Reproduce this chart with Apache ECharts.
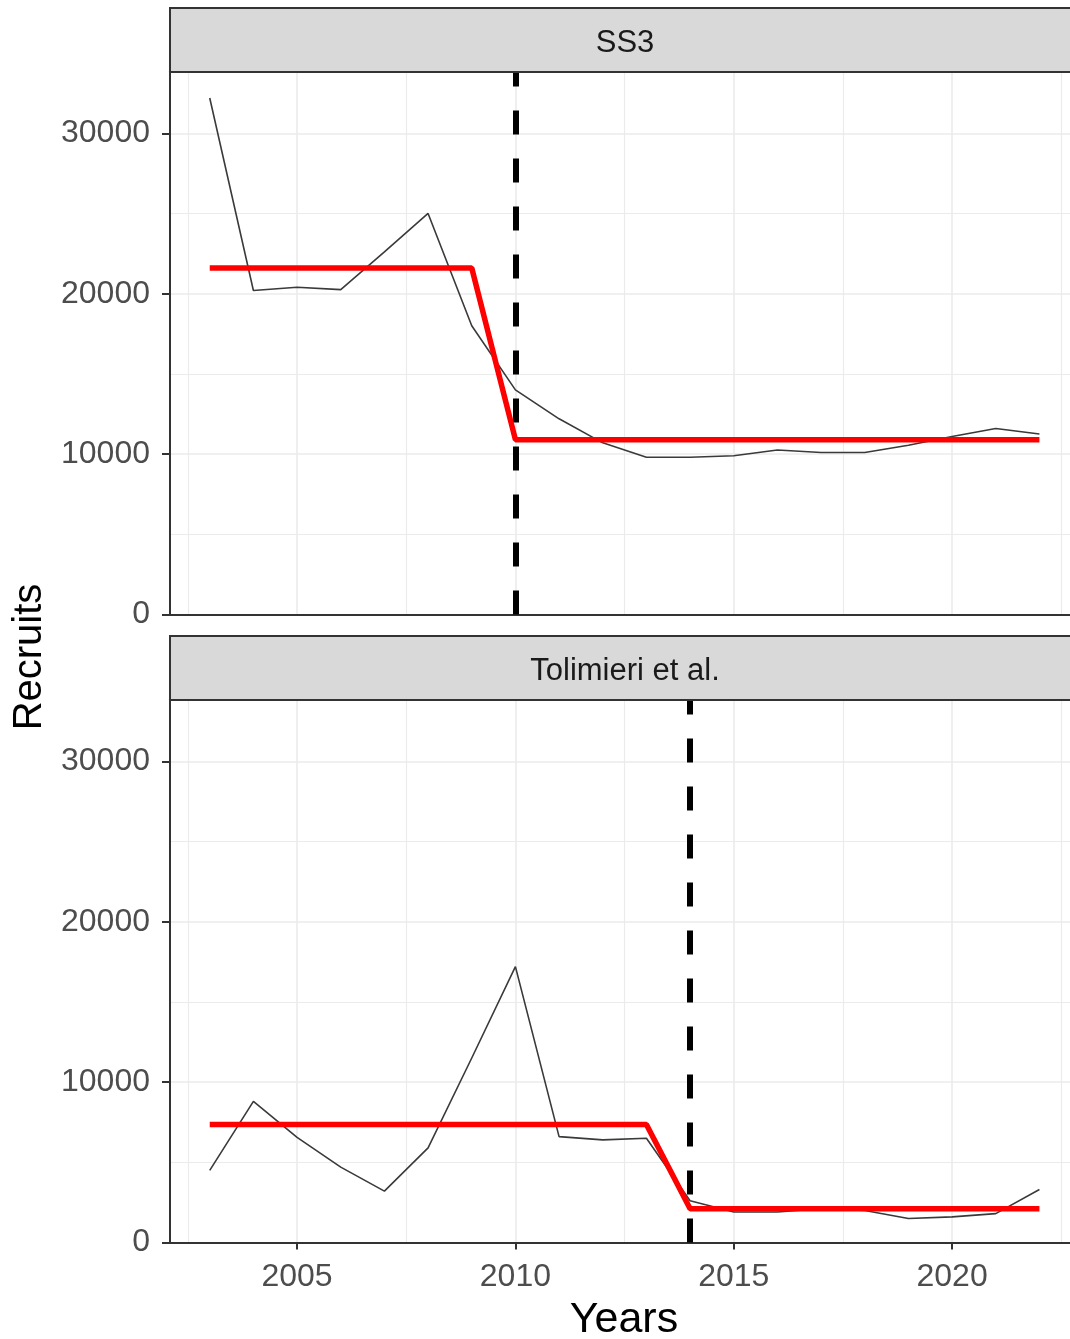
<!DOCTYPE html>
<html>
<head>
<meta charset="utf-8">
<script src="https://cdn.jsdelivr.net/npm/echarts@6/dist/echarts.min.js"></script>
<style>
  html, body { margin: 0; padding: 0; background: #ffffff; }
  #chart { width: 1070px; height: 1339px; }
</style>
</head>
<body>
<div id="chart"></div>
<script>
// ---- data ----
const years = [2003, 2004, 2005, 2006, 2007, 2008, 2009, 2010, 2011, 2012,
               2013, 2014, 2015, 2016, 2017, 2018, 2019, 2020, 2021, 2022];
const ss3Recruits = [32200, 20200, 20400, 20250, 22600, 25000, 18000, 14000, 12200, 10700,
                     9800, 9800, 9900, 10250, 10100, 10100, 10550, 11100, 11600, 11250];
const ss3Fit = [21600, 21600, 21600, 21600, 21600, 21600, 21600, 10900, 10900, 10900,
                10900, 10900, 10900, 10900, 10900, 10900, 10900, 10900, 10900, 10900];
const tolRecruits = [4500, 8800, 6550, 4700, 3200, 5900, 11500, 17200, 6600, 6400,
                     6500, 2600, 1900, 1900, 2100, 2000, 1500, 1600, 1800, 3300];
const tolFit = [7350, 7350, 7350, 7350, 7350, 7350, 7350, 7350, 7350, 7350,
                7350, 2100, 2100, 2100, 2100, 2100, 2100, 2100, 2100, 2100];
const ss3Break = 2010;
const tolBreak = 2014;
const panelTitles = ['SS3', 'Tolimieri et al.'];
const xMajorTicks = [2005, 2010, 2015, 2020];
const xMinorLines = [2002.5, 2007.5, 2012.5, 2017.5, 2022.5];
const yMajorTicks = [0, 10000, 20000, 30000];
const yMinorLines = [5000, 15000, 25000];
const xLabel = 'Years';
const yLabel = 'Recruits';

// ---- layout ----
const FONT = 'Liberation Sans, Arial, sans-serif';
const X_MIN = 2002.09, X_MAX = 2022.70;
const Y_MIN = 0, Y_MAX = 33850;
const GRID_LEFT = 170, GRID_RIGHT = 0;
const panels = [
  { top: 71.5, height: 543, stripTop: 8, stripH: 64 },
  { top: 699.5, height: 543, stripTop: 636, stripH: 64 }
];
const gridColor = '#EBEBEB';
const axisColor = '#333333';
const plainNum = v => String(v);

const pair = (xs, ys) => xs.map((x, i) => [x, ys[i]]);

const grids = panels.map(p => ({
  left: GRID_LEFT, right: GRID_RIGHT, top: p.top, height: p.height,
  containLabel: false, outerBoundsMode: 'none'
}));

const xAxes = [];
const yAxes = [];
panels.forEach((p, i) => {
  const isBottom = i === panels.length - 1;
  xAxes.push({
    type: 'value', gridIndex: i, min: X_MIN, max: X_MAX, position: 'bottom',
    axisLine: { show: true, onZero: false, lineStyle: { color: axisColor, width: 2 } },
    axisTick: { show: isBottom, length: 7, customValues: xMajorTicks, lineStyle: { color: axisColor, width: 2 } },
    axisLabel: { show: isBottom, customValues: xMajorTicks, formatter: plainNum, margin: 19, color: '#4D4D4D', fontSize: 32, fontFamily: FONT },
    splitLine: { show: true, lineStyle: { color: gridColor, width: 1.6 } }
  });
  xAxes.push({
    type: 'value', gridIndex: i, min: X_MIN, max: X_MAX, position: 'top',
    axisLine: { show: false }, axisLabel: { show: false },
    axisTick: { show: false, customValues: xMinorLines },
    splitLine: { show: true, lineStyle: { color: gridColor, width: 1.1 } }
  });
  yAxes.push({
    type: 'value', gridIndex: i, min: Y_MIN, max: Y_MAX, position: 'left',
    axisLine: { show: true, onZero: false, lineStyle: { color: axisColor, width: 2 } },
    axisTick: { show: true, length: 8, customValues: yMajorTicks, lineStyle: { color: axisColor, width: 2 } },
    axisLabel: { show: true, customValues: yMajorTicks, formatter: plainNum, margin: 20, color: '#4D4D4D', fontSize: 32, fontFamily: FONT },
    splitLine: { show: true, lineStyle: { color: gridColor, width: 1.6 } }
  });
  yAxes.push({
    type: 'value', gridIndex: i, min: Y_MIN, max: Y_MAX, position: 'right',
    axisLine: { show: false }, axisLabel: { show: false },
    axisTick: { show: false, customValues: yMinorLines },
    splitLine: { show: true, lineStyle: { color: gridColor, width: 1.1 } }
  });
});

function panelSeries(i, recruits, fit, brk) {
  return [
    {
      type: 'line', xAxisIndex: 2 * i, yAxisIndex: 2 * i, data: pair(years, recruits),
      symbol: 'none', lineStyle: { color: '#3A3A3A', width: 1.6 }, z: 3, animation: false,
      markLine: {
        silent: true, symbol: 'none', animation: false, z: 4,
        label: { show: false },
        lineStyle: { color: '#000000', width: 6, type: [24, 24], cap: 'butt' },
        data: [{ xAxis: brk }]
      }
    },
    {
      type: 'line', xAxisIndex: 2 * i, yAxisIndex: 2 * i, data: pair(years, fit),
      symbol: 'none', lineStyle: { color: '#FF0000', width: 5.5 }, z: 5, animation: false
    }
  ];
}

const graphics = [];
panels.forEach((p, i) => {
  graphics.push({
    type: 'rect', z: 10,
    shape: { x: GRID_LEFT, y: p.stripTop, width: 1085 - GRID_LEFT, height: p.stripH },
    style: { fill: '#D9D9D9', stroke: '#333333', lineWidth: 2 }
  });
  graphics.push({
    type: 'text', z: 11,
    x: 625, y: p.stripTop + p.stripH / 2 + 3,
    style: { text: panelTitles[i], fill: '#1A1A1A', font: '31px ' + FONT, textAlign: 'center', textVerticalAlign: 'middle' }
  });
});
graphics.push({
  type: 'text', z: 11, x: 30, y: 657, rotation: Math.PI / 2,
  style: { text: yLabel, fill: '#000000', font: '40px ' + FONT, textAlign: 'center', textVerticalAlign: 'middle' }
});
graphics.push({
  type: 'text', z: 11, x: 624, y: 1320,
  style: { text: xLabel, fill: '#000000', font: '43px ' + FONT, textAlign: 'center', textVerticalAlign: 'middle' }
});

const chart = echarts.init(document.getElementById('chart'), null, { renderer: 'canvas' });
chart.setOption({
  animation: false,
  backgroundColor: '#ffffff',
  grid: grids,
  xAxis: xAxes,
  yAxis: yAxes,
  series: [
    ...panelSeries(0, ss3Recruits, ss3Fit, ss3Break),
    ...panelSeries(1, tolRecruits, tolFit, tolBreak)
  ],
  graphic: graphics
});
</script>
</body>
</html>
